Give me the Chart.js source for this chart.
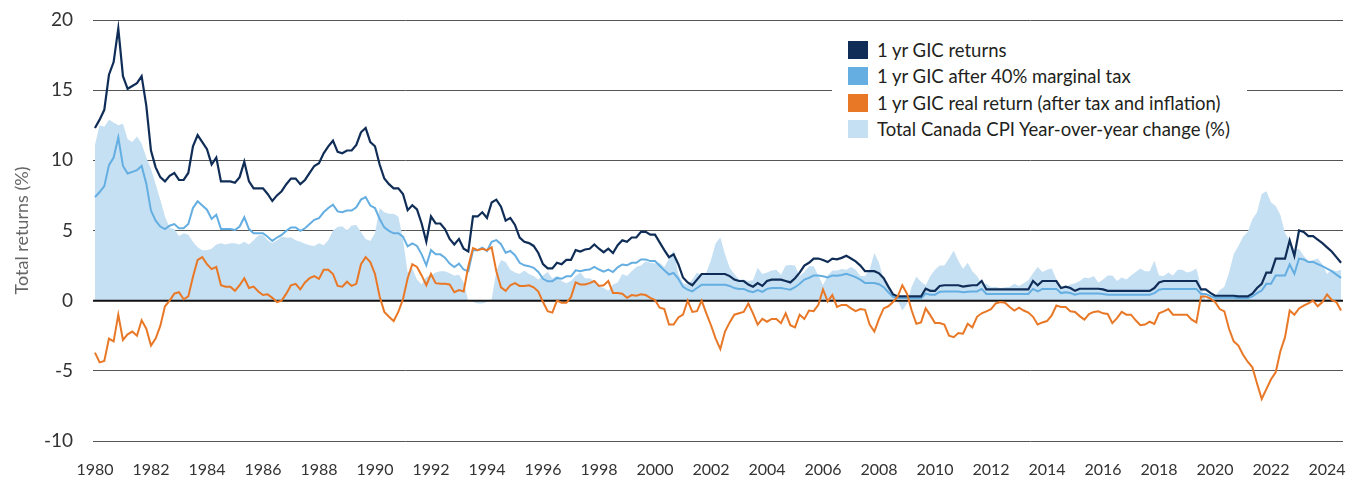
<!DOCTYPE html>
<html>
<head>
<meta charset="utf-8">
<script src="https://cdn.jsdelivr.net/npm/chart.js@4.4.1/dist/chart.umd.min.js"></script>
<style>
  html, body { margin: 0; padding: 0; background: #fff; }
  #wrap { position: relative; width: 1368px; height: 481px; }
  #legend { position: absolute; left: 832px; top: 30px; width: 415px; height: 120px; background: #fff;
            font-family: Lato, sans-serif; font-size: 18.5px; color: #231f20; }
  .row { position: absolute; left: 16px; height: 19px; display: flex; align-items: center; white-space: nowrap; }
  .sw { width: 20px; height: 18px; margin-right: 9px; flex: none; }
</style>
</head>
<body>
<div id="wrap">
  <canvas id="gicChart" width="1368" height="481"></canvas>
  <div id="legend"></div>
</div>
<script>
// one value every two months, starting Jan 1980
const startYear = 1980;
const perYear = 6;

const yearTicks = [1980, 1982, 1984, 1986, 1988, 1990, 1992, 1994, 1996, 1998, 2000, 2002,
  2004, 2006, 2008, 2010, 2012, 2014, 2016, 2018, 2020, 2022, 2024];

const seriesNames = ['1 yr GIC returns', '1 yr GIC after 40% marginal tax',
  '1 yr GIC real return (after tax and inflation)', 'Total Canada CPI Year-over-year change (%)'];

// 1 yr GIC rate (%)
const gic = [
  12.3, 12.9, 13.6, 16.1, 17.0, 19.4,   // 1980
  16.0, 15.1, 15.3, 15.5, 16.0, 13.9,
  10.7, 9.5, 8.8, 8.5, 8.9, 9.1,
  8.6, 8.6, 9.1, 11.0, 11.8, 11.3,
  10.8, 9.7, 10.2, 8.5, 8.5, 8.5,
  8.4, 8.8, 9.9, 8.5, 8.0, 8.0,         // 1985
  8.0, 7.6, 7.1, 7.5, 7.8, 8.3,
  8.7, 8.7, 8.3, 8.6, 9.1, 9.6,
  9.8, 10.5, 11.0, 11.4, 10.6, 10.5,
  10.7, 10.7, 11.1, 12.0, 12.3, 11.3,
  11.0, 9.7, 8.7, 8.3, 8.0, 8.0,        // 1990
  7.6, 6.45, 6.8, 6.5, 5.5, 4.2,
  6.0, 5.5, 5.5, 5.1, 4.4, 4.0,
  4.4, 3.7, 3.5, 6.0, 6.0, 6.3,
  5.9, 7.0, 7.2, 6.7, 5.7, 5.9,
  5.4, 4.5, 4.2, 4.1, 3.9, 3.4,         // 1995
  2.6, 2.3, 2.3, 2.7, 2.6, 2.9,
  2.9, 3.6, 3.5, 3.65, 3.7, 4.0,
  3.7, 3.45, 3.7, 3.4, 3.95, 4.3,
  4.2, 4.5, 4.5, 4.9, 4.9, 4.7,
  4.7, 4.15, 3.6, 3.1, 3.3, 2.6,        // 2000
  1.65, 1.3, 1.1, 1.5, 1.9, 1.9,
  1.9, 1.9, 1.9, 1.9, 1.75, 1.5,
  1.4, 1.4, 1.15, 1.0, 1.25, 1.05,
  1.4, 1.5, 1.5, 1.5, 1.4, 1.3,
  1.6, 2.0, 2.5, 2.7, 3.0, 3.0,         // 2005
  2.9, 2.75, 3.0, 2.95, 3.05, 3.2,
  3.0, 2.8, 2.5, 2.1, 2.1, 2.1,
  1.95, 1.6, 1.0, 0.45, 0.3, 0.3,
  0.3, 0.3, 0.3, 0.3, 0.85, 0.7,
  0.7, 1.05, 1.1, 1.1, 1.1, 1.1,        // 2010
  1.0, 1.05, 1.1, 1.1, 1.4, 0.8,
  0.8, 0.8, 0.8, 0.8, 0.8, 0.8,
  0.8, 0.8, 0.8, 1.4, 1.1, 1.4,
  1.4, 1.4, 1.4, 0.9, 1.0, 0.9,
  0.7, 0.85, 0.85, 0.85, 0.85, 0.85,    // 2015
  0.8, 0.7, 0.7, 0.7, 0.7, 0.7,
  0.7, 0.7, 0.7, 0.7, 0.7, 0.9,
  1.3, 1.4, 1.4, 1.4, 1.4, 1.4,
  1.4, 1.4, 1.4, 0.8, 0.8, 0.55,
  0.35, 0.35, 0.35, 0.35, 0.35, 0.3,    // 2020
  0.3, 0.3, 0.5, 0.9, 1.2, 2.0,
  2.0, 3.0, 3.0, 3.0, 4.3, 3.2,
  5.0, 4.9, 4.6, 4.6, 4.35, 4.1,
  3.8, 3.5, 3.1, 2.7                    // 2024
];

// after 40% marginal tax (%)
const afterTax = [
  7.38, 7.74, 8.16, 9.66, 10.2, 11.64,
  9.6, 9.06, 9.18, 9.3, 9.6, 8.34,
  6.42, 5.7, 5.28, 5.1, 5.34, 5.46,
  5.16, 5.16, 5.46, 6.6, 7.08, 6.78,
  6.48, 5.82, 6.12, 5.1, 5.1, 5.1,
  5.04, 5.28, 5.94, 5.1, 4.8, 4.8,
  4.8, 4.56, 4.26, 4.5, 4.68, 4.98,
  5.22, 5.22, 4.98, 5.16, 5.46, 5.76,
  5.88, 6.3, 6.6, 6.84, 6.36, 6.3,
  6.42, 6.42, 6.66, 7.2, 7.38, 6.78,
  6.6, 5.82, 5.22, 4.98, 4.8, 4.8,
  4.56, 3.87, 4.08, 3.9, 3.3, 2.52,
  3.6, 3.3, 3.3, 3.06, 2.64, 2.4,
  2.64, 2.22, 2.1, 3.6, 3.6, 3.78,
  3.54, 4.2, 4.32, 4.02, 3.42, 3.54,
  3.24, 2.7, 2.52, 2.46, 2.34, 2.04,
  1.56, 1.38, 1.38, 1.62, 1.56, 1.74,
  1.74, 2.16, 2.1, 2.19, 2.22, 2.4,
  2.22, 2.07, 2.22, 2.04, 2.37, 2.58,
  2.52, 2.7, 2.7, 2.94, 2.94, 2.82,
  2.82, 2.49, 2.16, 1.86, 1.98, 1.56,
  0.99, 0.78, 0.66, 0.9, 1.14, 1.14,
  1.14, 1.14, 1.14, 1.14, 1.05, 0.9,
  0.84, 0.84, 0.69, 0.6, 0.75, 0.63,
  0.84, 0.9, 0.9, 0.9, 0.84, 0.78,
  0.96, 1.2, 1.5, 1.62, 1.8, 1.8,
  1.74, 1.65, 1.8, 1.77, 1.83, 1.92,
  1.8, 1.68, 1.5, 1.26, 1.26, 1.26,
  1.17, 0.96, 0.6, 0.27, 0.18, 0.18,
  0.18, 0.18, 0.18, 0.18, 0.51, 0.42,
  0.42, 0.63, 0.66, 0.66, 0.66, 0.66,
  0.6, 0.63, 0.66, 0.66, 0.84, 0.48,
  0.48, 0.48, 0.48, 0.48, 0.48, 0.48,
  0.48, 0.48, 0.48, 0.84, 0.66, 0.84,
  0.84, 0.84, 0.84, 0.54, 0.6, 0.54,
  0.42, 0.51, 0.51, 0.51, 0.51, 0.51,
  0.48, 0.42, 0.42, 0.42, 0.42, 0.42,
  0.42, 0.42, 0.42, 0.42, 0.42, 0.54,
  0.78, 0.84, 0.84, 0.84, 0.84, 0.84,
  0.84, 0.84, 0.84, 0.48, 0.48, 0.33,
  0.21, 0.21, 0.21, 0.21, 0.21, 0.18,
  0.18, 0.18, 0.3, 0.54, 0.72, 1.2,
  1.2, 1.8, 1.8, 1.8, 2.58, 1.92,
  3.0, 2.94, 2.76, 2.76, 2.61, 2.46,
  2.28, 2.1, 1.86, 1.62
];

// real return after tax and inflation (%)
const realReturn = [
  -3.7, -4.4, -4.3, -2.7, -2.9, -1.0,
  -2.8, -2.4, -2.2, -2.5, -1.4, -2.0,
  -3.2, -2.7, -1.8, -0.4, 0, 0.5,
  0.6, 0.1, 0.3, 1.7, 2.9, 3.1,
  2.6, 2.25, 2.4, 1.1, 1.0, 1.0,
  0.7, 1.1, 1.6, 0.9, 1.0, 0.65,
  0.4, 0.45, 0.2, -0.1, 0, 0.5,
  1.1, 1.2, 0.8, 1.3, 1.6, 1.75,
  1.55, 2.2, 2.2, 1.9, 1.05, 1.0,
  1.35, 1.05, 1.2, 2.6, 3.1, 2.75,
  1.9, 0.3, -0.8, -1.15, -1.45, -0.8,
  0.1, 1.6, 2.6, 2.4, 1.8, 1.1,
  1.9, 1.25, 1.2, 1.2, 1.15, 0.6,
  0.75, 0.65, 2.45, 3.75, 3.6, 3.7,
  3.6, 3.8, 2.1, 0.95, 0.7, 1.1,
  1.25, 1.05, 1.05, 1.1, 0.95, 0.65,
  -0.1, -0.75, -0.85, 0, -0.15, -0.15,
  0.25, 1.3, 1.15, 1.15, 1.25, 1.4,
  1.05, 1.1, 1.4, 0.55, 0.55, 0.5,
  0.2, 0.4, 0.35, 0.45, 0.4, 0.2,
  0.05, -0.5, -0.6, -1.7, -1.7, -1.2,
  -1.0, 0, -0.8, -0.75, 0, -0.9,
  -1.75, -2.7, -3.45, -2.2, -1.55, -1.0,
  -0.9, -0.8, -0.2, -0.9, -1.7, -1.3,
  -1.5, -1.3, -1.3, -1.6, -0.9, -1.75,
  -1.9, -1.0, -1.3, -0.7, -0.75, -0.3,
  0.8, -0.05, 0.4, -0.45, -0.3, -0.3,
  -0.55, -0.75, -0.6, -0.65, -1.7, -2.2,
  -1.3, -0.55, -0.4, -0.1, 0.3, 1.1,
  0.5, -0.7, -1.65, -1.55, -0.55, -1.05,
  -1.6, -1.6, -1.7, -2.5, -2.6, -2.3,
  -2.35, -1.65, -1.9, -1.15, -0.9, -0.76,
  -0.6, -0.2, -0.1, -0.15, -0.45, -0.7,
  -0.5, -0.7, -0.85, -1.15, -1.7, -1.55,
  -1.45, -1.05, -0.35, -0.45, -0.45, -0.75,
  -0.8, -1.1, -1.35, -0.95, -0.8, -0.76,
  -0.9, -0.95, -1.6, -1.25, -0.8, -1.0,
  -1.0, -1.4, -1.75, -1.7, -1.5, -1.65,
  -0.9, -0.76, -0.6, -1.0, -1.0, -1.0,
  -1.0, -1.35, -1.55, 0.3, 0.3, 0.15,
  -0.1, -0.6, -0.76, -2.0, -2.9, -3.2,
  -3.85, -4.35, -4.75, -5.9, -7.0, -6.3,
  -5.6, -5.1, -3.6, -2.6, -0.7, -1.0,
  -0.55, -0.35, -0.2, 0, -0.4, -0.1,
  0.45, 0.05, -0.1, -0.7
];

// CPI year-over-year change (%)
const cpi = [
  11.1, 12.5, 12.4, 12.9, 12.7, 12.5,
  12.6, 11.5, 11.3, 11.7, 11.2, 10.2,
  9.4, 8.3, 7.2, 6.0, 5.2, 5.1,
  4.6, 4.8, 4.7, 4.2, 3.8, 3.6,
  3.6, 3.7, 4.0, 4.1, 4.0, 4.1,
  4.1, 4.0, 4.2, 4.0, 4.3, 4.65,
  4.7, 4.3, 4.1, 4.3, 4.55, 4.5,
  4.5, 4.3, 4.2, 4.05, 3.95, 3.9,
  4.1, 3.95, 4.3, 5.0, 5.25, 5.3,
  5.0, 5.35, 5.4, 4.9, 4.4, 4.25,
  4.8, 6.6, 6.3, 6.2, 6.2, 6.0,
  4.4, 2.0, 2.3, 1.5, 1.15, 1.7,
  1.8, 2.0, 2.1, 2.1, 1.95, 1.8,
  1.85, 1.3, 0, -0.1, -0.2, -0.2,
  -0.1, 0.1, 2.1, 2.9, 2.75, 2.2,
  2.0, 1.9, 2.15, 1.9, 1.75, 1.5,
  1.8, 2.05, 1.6, 1.75, 1.4, 1.25,
  1.4, 1.75, 2.0, 1.6, 1.6, 1.4,
  1.05, 0.9, 0.7, 1.15, 1.3, 1.9,
  1.75, 2.1, 2.4, 2.5, 2.8, 2.7,
  2.65, 2.7, 2.4, 3.0, 3.6, 1.9,
  1.25, 1.15, 1.5, 2.0, 1.8, 2.0,
  2.9, 4.1, 4.5, 3.3, 2.35, 1.9,
  1.5, 1.5, 1.4, 1.45, 2.35, 1.9,
  2.0, 2.15, 2.2, 1.85, 2.5, 2.55,
  2.5, 1.75, 2.05, 2.45, 2.45, 1.8,
  1.1, 1.8, 2.15, 2.15, 2.25, 2.2,
  2.4, 2.2, 1.75, 1.75, 2.2, 3.4,
  2.7, 1.5, 0.9, 0.35, 0, -0.7,
  -0.2, 1.0, 1.7, 1.35, 1.1, 1.75,
  2.2, 2.5, 2.5, 3.0, 3.55, 2.85,
  2.25, 2.7, 2.1, 1.75, 1.2, 1.2,
  0.95, 1.0, 0.9, 0.95, 1.0, 1.2,
  1.05, 1.25, 1.45, 1.95, 2.4, 2.05,
  2.2, 2.3, 1.55, 0.95, 1.0, 1.15,
  1.25, 1.4, 1.65, 1.6, 1.75, 1.3,
  1.5, 1.8, 1.8, 1.4, 1.65, 1.5,
  1.8, 2.05, 2.3, 2.1, 2.1, 2.85,
  1.8, 1.75, 2.0, 1.8, 2.2, 2.2,
  2.0, 2.1, 2.3, 1.0, -0.05, 0.35,
  0.3, 0.75, 1.0, 2.0, 3.3, 3.9,
  4.55, 4.9, 5.8, 6.3, 7.6, 7.8,
  7.0, 6.75, 6.1, 4.8, 4.3, 3.6,
  3.7, 3.2, 2.8, 2.9, 3.0, 2.6,
  1.9, 2.2, 2.1, 2.2
];

const colors = ['#0f2d57', '#64aee1', '#e97826', '#c5dff3'];

const toPoints = arr => arr.map((v, i) => ({ x: startYear + i / perYear, y: v }));

// legend (html, sits on a white box over the 15 gridline)
const legendEl = document.getElementById('legend');
const rowTops = [10, 36, 63, 89];
seriesNames.forEach((name, i) => {
  const row = document.createElement('div');
  row.className = 'row';
  row.style.top = rowTops[i] + 'px';
  row.innerHTML = '<span class="sw" style="background:' + colors[i] + '"></span><span>' + name + '</span>';
  legendEl.appendChild(row);
});

// black zero line drawn right after the CPI area so it sits above the fill
const zeroLine = {
  id: 'zeroLine',
  afterDatasetDraw(chart, args) {
    if (args.index !== 3) return;
    const y = chart.scales.y.getPixelForValue(0);
    const { left, right } = chart.chartArea;
    const c = chart.ctx;
    c.save();
    c.strokeStyle = '#111';
    c.lineWidth = 2;
    c.beginPath();
    c.moveTo(left, y);
    c.lineTo(right, y);
    c.stroke();
    c.restore();
  }
};

Chart.defaults.font.family = 'Lato, sans-serif';

new Chart(document.getElementById('gicChart'), {
  type: 'line',
  data: {
    datasets: [
      { label: seriesNames[0], data: toPoints(gic), borderColor: colors[0], borderWidth: 2.2, pointRadius: 0, order: 2 },
      { label: seriesNames[1], data: toPoints(afterTax), borderColor: colors[1], borderWidth: 2, pointRadius: 0, order: 3 },
      { label: seriesNames[2], data: toPoints(realReturn), borderColor: colors[2], borderWidth: 2, pointRadius: 0, order: 1 },
      { label: seriesNames[3], data: toPoints(cpi), borderWidth: 0, backgroundColor: colors[3], fill: 'origin', pointRadius: 0, order: 4 }
    ]
  },
  options: {
    responsive: false,
    animation: false,
    devicePixelRatio: 1,
    layout: { padding: { top: 20, right: 25, left: 0, bottom: 0 } },
    plugins: { legend: { display: false }, tooltip: { enabled: false } },
    scales: {
      x: {
        type: 'linear',
        min: 1979.93,
        max: 2024.57,
        grid: { display: false },
        border: { display: false },
        afterBuildTicks: scale => { scale.ticks = yearTicks.map(v => ({ value: v })); },
        afterFit: scale => { scale.height = 40; scale.paddingLeft = 0; scale.paddingRight = 0; },
        ticks: { font: { size: 16 }, color: '#333', padding: 11, maxRotation: 0, callback: v => String(v) }
      },
      y: {
        min: -10,
        max: 20,
        afterFit: scale => { scale.width = 93; scale.paddingTop = 0; scale.paddingBottom = 0; },
        border: { display: false },
        grid: {
          drawTicks: false,
          lineWidth: 1,
          color: c => (c.tick && c.tick.value === 0) ? 'rgba(0,0,0,0)' : '#555'
        },
        ticks: { stepSize: 5, font: { size: 19 }, color: '#333', padding: 20 },
        title: { display: true, text: 'Total returns (%)', font: { size: 18 }, color: '#666', padding: { top: 11, bottom: 0 } }
      }
    }
  },
  plugins: [zeroLine]
});
</script>
</body>
</html>
